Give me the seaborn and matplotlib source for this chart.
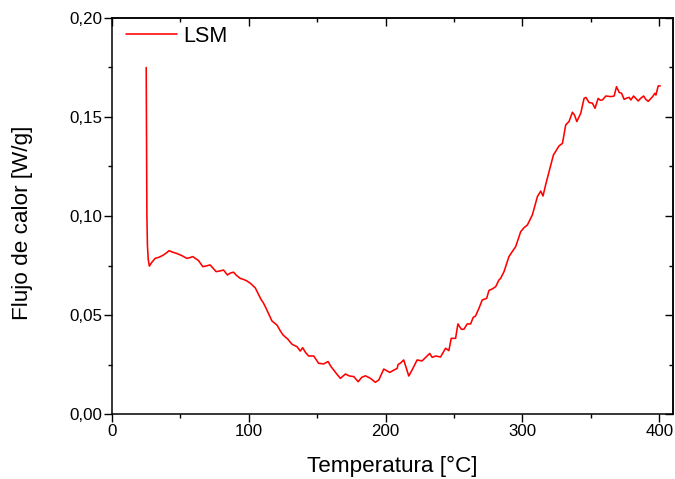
import matplotlib
matplotlib.use("Agg")
import matplotlib.pyplot as plt
import seaborn as sns
import pandas as pd
from matplotlib.ticker import MultipleLocator, FixedLocator, FixedFormatter

sns.set_theme(style="white")
plt.rcParams['font.family'] = ['Liberation Sans', 'DejaVu Sans']

series_name = "LSM"
x_label = "Temperatura [°C]"
y_label = "Flujo de calor [W/g]"

temperature = [
    25.0, 25.2, 25.5, 25.9, 26.5, 27.3, 29.0, 31.5, 34.5, 37.6, 40.0, 41.7, 44.0, 47.3,
    51.0, 54.7, 57.0, 59.0, 63.2, 66.4, 69.0, 71.7, 74.0, 76.1, 78.5, 81.5, 84.4, 86.5,
    88.8, 91.0, 93.7, 96.0, 98.6, 101.5, 104.7, 108.8, 110.8, 113.2, 116.9, 120.6, 123.0,
    125.0, 128.5, 131.6, 135.2, 137.6, 139.3, 141.5, 143.7, 147.4, 151.0, 154.7, 157.9,
    160.0, 162.0, 164.5, 166.9, 170.6, 173.5, 176.7, 179.9, 182.5, 185.2, 188.9, 192.5,
    195.0, 198.6, 201.0, 203.0, 206.0, 208.4, 209.1, 211.0, 213.2, 216.9, 219.5, 223.0,
    226.6, 229.5, 232.2, 234.0, 236.5, 240.1, 243.8, 246.2, 247.9, 251.1, 252.8, 255.3,
    257.2, 259.6, 262.1, 264.0, 265.7, 268.2, 270.6, 273.8, 275.5, 278.0, 280.4, 282.8,
    284.0, 286.5, 290.1, 292.5, 295.0, 298.7, 301.0, 303.6, 307.2, 310.9, 313.3, 315.0,
    317.0, 319.4, 322.6, 326.7, 329.2, 331.6, 334.0, 336.5, 338.0, 339.7, 342.6, 345.0,
    346.3, 348.7, 351.1, 353.0, 355.3, 356.8, 358.4, 360.9, 364.6, 367.0, 368.7, 370.7,
    372.4, 374.3, 376.0, 378.0, 379.2, 381.2, 384.6, 386.5, 388.5, 390.0, 391.9, 395.1,
    396.8, 397.5, 399.2, 400.7,
]
heat_flow = [
    0.175, 0.140, 0.100, 0.085, 0.078, 0.0747, 0.0765, 0.0786, 0.0792, 0.0803, 0.0815, 0.0825, 0.0818, 0.0811,
    0.0800, 0.0786, 0.0790, 0.0795, 0.0775, 0.0744, 0.0748, 0.0753, 0.0735, 0.0719, 0.0722, 0.0727, 0.0702, 0.0712,
    0.0716, 0.0700, 0.0685, 0.0680, 0.0672, 0.0658, 0.0637, 0.0580, 0.0559, 0.0525, 0.0470, 0.0449, 0.0420,
    0.0399, 0.0378, 0.0352, 0.0340, 0.0318, 0.0335, 0.0310, 0.0293, 0.0293, 0.0256, 0.0253, 0.0265,
    0.0240, 0.0222, 0.0200, 0.0180, 0.0202, 0.0192, 0.0189, 0.0163, 0.0185, 0.0193, 0.0180, 0.0160,
    0.0172, 0.0227, 0.0218, 0.0210, 0.0222, 0.0230, 0.0250, 0.0258, 0.0273, 0.0192, 0.0225, 0.0273,
    0.0268, 0.0288, 0.0306, 0.0286, 0.0293, 0.0288, 0.0332, 0.0320, 0.0382, 0.0382, 0.0455, 0.0428,
    0.0428, 0.0455, 0.0455, 0.0488, 0.0495, 0.0534, 0.0576, 0.0584, 0.0624, 0.0632, 0.0643, 0.0677,
    0.0685, 0.0719, 0.0795, 0.0820, 0.0845, 0.0921, 0.0940, 0.0955, 0.1005, 0.1098, 0.1126, 0.1101,
    0.1160, 0.1224, 0.1308, 0.1354, 0.1367, 0.1460, 0.1477, 0.1524, 0.1510, 0.1477, 0.1519, 0.1594,
    0.1599, 0.1573, 0.1570, 0.1544, 0.1594, 0.1585, 0.1586, 0.1606, 0.1603, 0.1606, 0.1653, 0.1624,
    0.1620, 0.1589, 0.1595, 0.1599, 0.1586, 0.1606, 0.1581, 0.1595, 0.1606, 0.1590, 0.1579, 0.1603,
    0.1620, 0.1611, 0.1657, 0.1657,
]

x_ticks = [0, 100, 200, 300, 400]
x_tick_labels = ["0", "100", "200", "300", "400"]
y_ticks = [0.00, 0.05, 0.10, 0.15, 0.20]
y_tick_labels = ["0,00", "0,05", "0,10", "0,15", "0,20"]

df = pd.DataFrame({"T": temperature, "HF": heat_flow})

fig = plt.figure(figsize=(6.75, 4.79), dpi=100)
ax = fig.add_axes([112/675, 1 - 414/479, (673-112)/675, (414-18)/479])

sns.lineplot(data=df, x="T", y="HF", color="#ff0000", linewidth=1.15,
             label=series_name, ax=ax, sort=False, estimator=None)

ax.set_xlim(0, 410)
ax.set_ylim(0, 0.20)
ax.xaxis.set_major_locator(FixedLocator(x_ticks))
ax.xaxis.set_major_formatter(FixedFormatter(x_tick_labels))
ax.yaxis.set_major_locator(FixedLocator(y_ticks))
ax.yaxis.set_major_formatter(FixedFormatter(y_tick_labels))
ax.xaxis.set_minor_locator(MultipleLocator(50))
ax.yaxis.set_minor_locator(MultipleLocator(0.025))

for s in ax.spines.values():
    s.set_color("black")
    s.set_linewidth(1.1)

ax.tick_params(which="both", direction="out", bottom=True, left=True,
               top=False, right=False, colors="black", labelcolor="black",
               labelsize=12.2, width=1.0)
ax.tick_params(which="major", length=5.5, pad=1.5)
ax.tick_params(which="minor", length=3)
# inward ticks on top/right
ax2 = ax.secondary_xaxis("top")
ax2.xaxis.set_major_locator(FixedLocator(x_ticks))
ax2.xaxis.set_minor_locator(MultipleLocator(50))
ax2.tick_params(which="both", direction="in", labeltop=False, width=1.0, colors="black")
ax2.tick_params(which="major", length=5.5)
ax2.tick_params(which="minor", length=3)
ax3 = ax.secondary_yaxis("right")
ax3.yaxis.set_major_locator(FixedLocator(y_ticks))
ax3.yaxis.set_minor_locator(MultipleLocator(0.025))
ax3.tick_params(which="both", direction="in", labelright=False, width=1.0, colors="black")
ax3.tick_params(which="major", length=5.5)
ax3.tick_params(which="minor", length=3)

ax.set_xlabel(x_label, fontsize=16.2, labelpad=12, color="black")
ax.set_ylabel(y_label, fontsize=16.2, color="black")
ax.yaxis.set_label_coords(-0.141, 0.482)

leg = ax.legend(loc="upper left", frameon=False, fontsize=15.5,
                handlelength=2.35, handletextpad=0.3,
                bbox_to_anchor=(0.0, 1.0 + 6/396), borderaxespad=0.25)
for t in leg.get_texts():
    t.set_color("black")

fig.savefig("out.png", dpi=100)
